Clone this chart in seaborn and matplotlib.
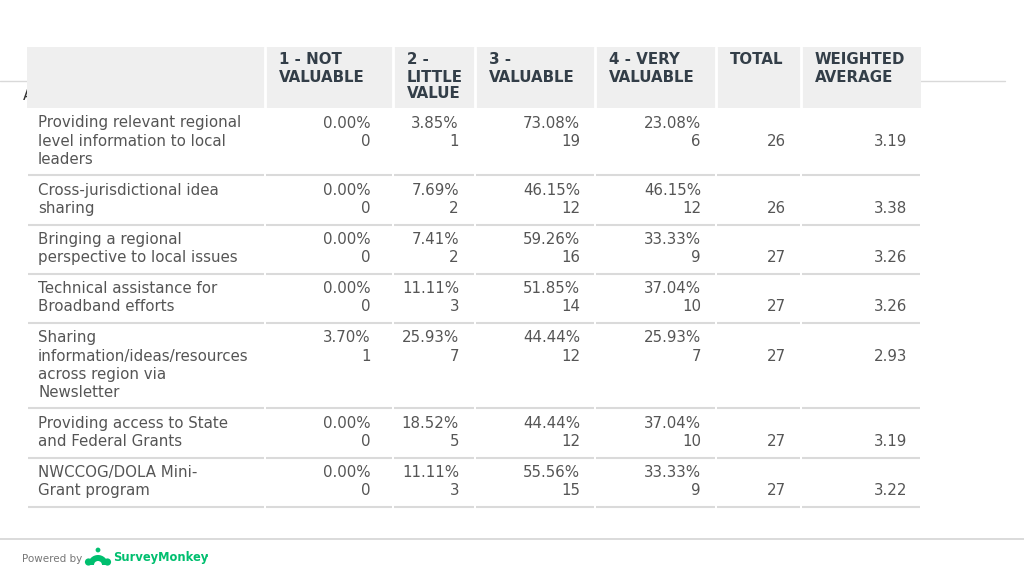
import matplotlib.pyplot as plt
import matplotlib.patches as mpatches
import seaborn as sns

row_labels = [
    ["Providing relevant regional", "level information to local", "leaders"],
    ["Cross-jurisdictional idea", "sharing"],
    ["Bringing a regional", "perspective to local issues"],
    ["Technical assistance for", "Broadband efforts"],
    ["Sharing", "information/ideas/resources", "across region via", "Newsletter"],
    ["Providing access to State", "and Federal Grants"],
    ["NWCCOG/DOLA Mini-", "Grant program"],
]
col_headers = [
    ["1 - NOT", "VALUABLE"],
    ["2 -", "LITTLE", "VALUE"],
    ["3 -", "VALUABLE"],
    ["4 - VERY", "VALUABLE"],
    ["TOTAL"],
    ["WEIGHTED", "AVERAGE"],
]
not_valuable_pct = [0.00, 0.00, 0.00, 0.00, 3.70, 0.00, 0.00]
not_valuable_n = [0, 0, 0, 0, 1, 0, 0]
little_value_pct = [3.85, 7.69, 7.41, 11.11, 25.93, 18.52, 11.11]
little_value_n = [1, 2, 2, 3, 7, 5, 3]
valuable_pct = [73.08, 46.15, 59.26, 51.85, 44.44, 44.44, 55.56]
valuable_n = [19, 12, 16, 14, 12, 12, 15]
very_valuable_pct = [23.08, 46.15, 33.33, 37.04, 25.93, 37.04, 33.33]
very_valuable_n = [6, 12, 9, 10, 7, 10, 9]
totals = [26, 26, 27, 27, 27, 27, 27]
weighted_avg = [3.19, 3.38, 3.26, 3.26, 2.93, 3.19, 3.22]

pct_cols = [not_valuable_pct, little_value_pct, valuable_pct, very_valuable_pct]
n_cols = [not_valuable_n, little_value_n, valuable_n, very_valuable_n]

# ---- layout (pixels) ----
sns.set_theme(style="white")
plt.rcParams["font.family"] = ["DejaVu Sans"]

fig = plt.figure(figsize=(10.24, 5.76), dpi=100)
ax = fig.add_axes([0, 0, 1, 1])
ax.set_xlim(0, 1024)
ax.set_ylim(576, 0)
ax.axis("off")

left, right = 27, 921
col_edges = [265, 393, 475, 595, 716, 801]
col_right = [371, 459, 580, 701, 786, 907]
head_top, head_bot = 47, 108
line_h = 18.3
fs = 10.8
fs_head = 10.8
text_col = "#555555"
head_col = "#333e48"
rule_col = "#dadada"

# slide title line / clipped letter behind the table
ax.plot([0, 1005], [81, 81], color="#d9d9d9", lw=1, zorder=1)
ax.text(23, 95, "A", fontsize=fs, color="#333333", va="center", zorder=1)

# header band
ax.add_patch(mpatches.Rectangle((left, head_top), right - left, head_bot - head_top,
                                facecolor="#efefef", edgecolor="none", zorder=2))
for x in col_edges:
    ax.plot([x, x], [head_top, head_bot], color="white", lw=2, zorder=3)
for j, hdr in enumerate(col_headers):
    for k, line in enumerate(hdr):
        ax.text(col_edges[j] + 14, 60 + k * 17, line, fontsize=fs_head, fontweight="bold",
                color=head_col, va="center", ha="left", zorder=4)

# body rows
top = head_bot
seg_x = [left] + col_edges + [right]
for i, lbl in enumerate(row_labels):
    for k, line in enumerate(lbl):
        ax.text(38, top + 15 + k * line_h, line, fontsize=fs, color=text_col,
                va="center", ha="left")
    y1 = top + 15
    y2 = y1 + line_h
    for j in range(4):
        ax.text(col_right[j], y1, f"{pct_cols[j][i]:.2f}%", fontsize=fs,
                color=text_col, va="center", ha="right")
        ax.text(col_right[j], y2, f"{n_cols[j][i]}", fontsize=fs,
                color=text_col, va="center", ha="right")
    ax.text(col_right[4], y2, f"{totals[i]}", fontsize=fs, color=text_col,
            va="center", ha="right")
    ax.text(col_right[5], y2, f"{weighted_avg[i]:.2f}", fontsize=fs, color=text_col,
            va="center", ha="right")
    top = top + 12.5 + line_h * len(lbl)
    for a, b in zip(seg_x[:-1], seg_x[1:]):
        ax.plot([a + 1, b - 1], [top, top], color=rule_col, lw=1.5, solid_capstyle="butt")

# footer
ax.plot([0, 1024], [539, 539], color="#d4d4d4", lw=1.2)
ax.text(22, 559, "Powered by", fontsize=7.5, color="#777777", va="center", ha="left")
green = "#00bf6f"
ax.add_patch(mpatches.Wedge((98, 565), 10, 180, 360, width=6, facecolor=green, edgecolor="none"))
ax.add_patch(mpatches.Circle((88.5, 562), 3.6, facecolor=green, edgecolor="none"))
ax.add_patch(mpatches.Circle((107.5, 562), 3.6, facecolor=green, edgecolor="none"))
ax.add_patch(mpatches.Circle((98, 550), 2.4, facecolor=green, edgecolor="none"))
ax.text(113, 558, "SurveyMonkey", fontsize=8.3, fontweight="bold", color=green,
        va="center", ha="left")
ax.add_patch(mpatches.Circle((207, 556), 1.0, facecolor=green, edgecolor="none"))

fig.savefig("out.png", dpi=100)
